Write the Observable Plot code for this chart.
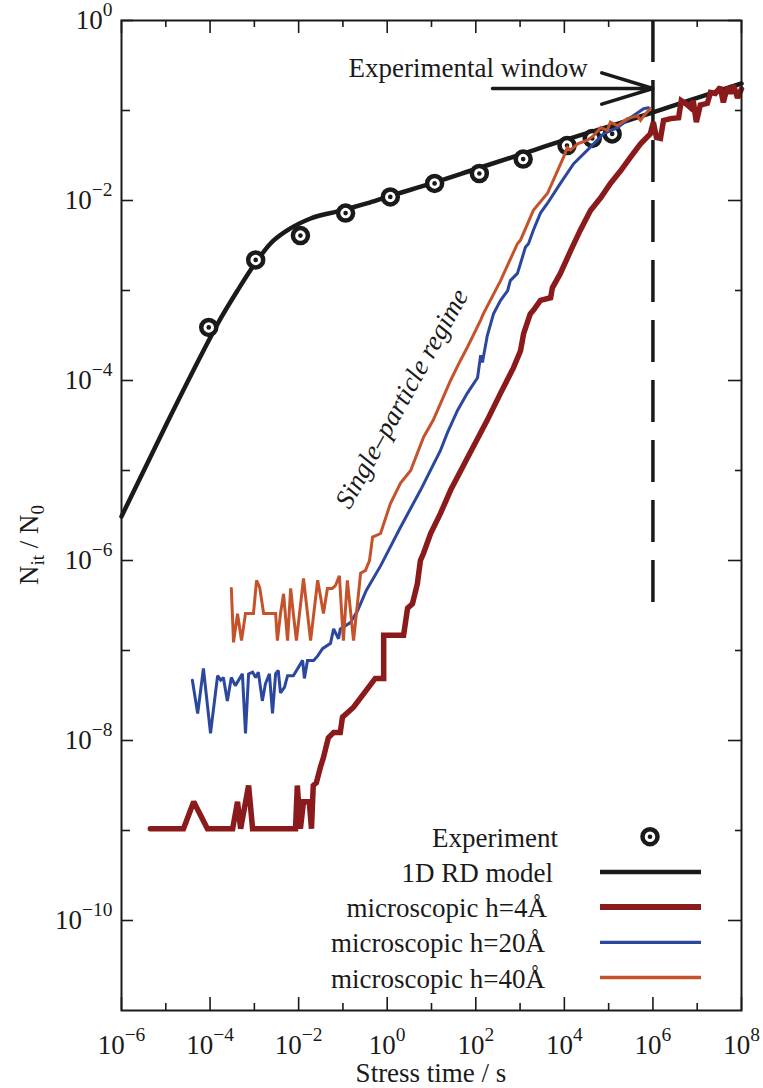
<!DOCTYPE html>
<html><head><meta charset="utf-8">
<script src="https://cdn.jsdelivr.net/npm/d3@7"></script>
<script src="https://cdn.jsdelivr.net/npm/@observablehq/plot@0.6"></script>
<style>
html,body{margin:0;padding:0;background:#fff;overflow:hidden}
#chart svg{display:block}
#chart svg text{font-family:"Liberation Serif","Times New Roman",serif !important}
</style></head><body><div id="chart"></div>
<script>
// ---------- data (log10 exponents) ----------
const modelLogT = [-6, -5, -4.15, -3.83, -3.38, -2.97, -2.64, -2.25, -1.73, -1.12, -0.38, 0, 1, 2, 3, 4, 5, 6, 7, 8];
const modelLogN = [-5.51, -4.50, -3.67, -3.37, -3.00, -2.69, -2.48, -2.33, -2.20, -2.12, -2.02, -1.96, -1.81, -1.65, -1.49, -1.33, -1.18, -1.02, -0.86, -0.70];

const expLogT = [-4.03, -2.97, -1.96, -0.94, 0.07, 1.07, 2.08, 3.07, 4.06, 4.63, 5.08];
const expLogN = [-3.41, -2.66, -2.39, -2.14, -1.96, -1.81, -1.70, -1.54, -1.39, -1.31, -1.26];

const h4LogT = [-5.35, -4.60, -4.37, -4.06, -3.49, -3.38, -3.31, -3.13, -3.04, -2.07, -2.03, -1.96, -1.89, -1.76, -1.71, -1.67, -1.60, -1.51, -1.44, -1.33, -1.21, -1.06, -1.01, -0.76, -0.27, -0.08, -0.08, 0.37, 0.46, 0.57, 0.68, 0.75, 0.82, 0.98, 1.20, 1.43, 1.81, 2.26, 2.56, 2.85, 3.01, 3.08, 3.23, 3.30, 3.46, 3.69, 3.73, 3.91, 4.14, 4.36, 4.59, 4.82, 5.04, 5.27, 5.49, 5.72, 5.94, 6.01, 6.08, 6.17, 6.24, 6.40, 6.58, 6.64, 6.76, 6.85, 6.91, 6.98, 7.07, 7.23, 7.30, 7.41, 7.52, 7.59, 7.68, 7.75, 7.82, 7.91, 8.0];
const h4LogN = [-8.98, -8.98, -8.68, -8.98, -8.98, -8.68, -8.98, -8.50, -8.98, -8.98, -8.50, -8.98, -8.68, -8.68, -8.98, -8.50, -8.47, -8.30, -8.19, -7.97, -7.91, -7.91, -7.74, -7.63, -7.31, -7.31, -6.83, -6.83, -6.53, -6.48, -6.26, -6.00, -5.92, -5.70, -5.48, -5.22, -4.86, -4.44, -4.14, -3.86, -3.67, -3.48, -3.26, -3.22, -3.11, -3.08, -2.97, -2.81, -2.56, -2.33, -2.11, -1.97, -1.81, -1.67, -1.52, -1.37, -1.26, -1.13, -1.30, -1.31, -1.11, -1.09, -1.08, -0.89, -0.93, -0.97, -0.89, -1.13, -0.94, -0.92, -0.80, -0.81, -0.74, -0.91, -0.74, -0.81, -0.72, -0.86, -0.76];

const h20LogT = [-4.40, -4.28, -4.15, -3.99, -3.83, -3.76, -3.70, -3.61, -3.52, -3.43, -3.27, -3.20, -3.13, -3.04, -2.97, -2.91, -2.82, -2.75, -2.66, -2.59, -2.52, -2.46, -2.41, -2.32, -2.25, -2.12, -1.91, -1.87, -1.80, -1.66, -1.57, -1.46, -1.28, -1.21, -1.10, -1.06, -0.83, -0.67, -0.47, -0.15, 0.30, 0.75, 1.20, 1.36, 1.59, 1.81, 2.04, 2.11, 2.15, 2.26, 2.40, 2.56, 2.72, 2.78, 2.94, 3.01, 3.12, 3.19, 3.30, 3.46, 3.62, 3.91, 4.21, 4.52, 4.88, 5.20, 5.49, 5.79, 5.90];
const h20LogN = [-7.33, -7.70, -7.20, -7.92, -7.28, -7.33, -7.30, -7.56, -7.30, -7.39, -7.26, -7.92, -7.26, -7.24, -7.30, -7.24, -7.56, -7.37, -7.26, -7.70, -7.26, -7.22, -7.47, -7.41, -7.28, -7.28, -7.11, -7.31, -7.11, -7.11, -7.06, -6.98, -6.92, -6.76, -6.87, -6.76, -6.69, -6.56, -6.33, -6.06, -5.63, -5.22, -4.78, -4.58, -4.33, -4.14, -3.97, -3.72, -3.80, -3.50, -3.26, -3.11, -3.00, -2.89, -2.81, -2.70, -2.52, -2.48, -2.33, -2.14, -2.03, -1.81, -1.59, -1.44, -1.26, -1.19, -1.08, -0.98, -0.97];

const h40LogT = [-3.52, -3.47, -3.38, -3.29, -3.20, -3.02, -2.95, -2.88, -2.79, -2.52, -2.48, -2.41, -2.34, -2.25, -2.18, -2.12, -2.05, -1.89, -1.73, -1.57, -1.44, -1.35, -1.24, -1.17, -1.08, -0.99, -0.90, -0.76, -0.60, -0.49, -0.40, -0.33, -0.15, 0.07, 0.30, 0.53, 0.82, 1.04, 1.20, 1.43, 1.65, 1.81, 2.11, 2.17, 2.56, 2.94, 3.01, 3.30, 3.62, 3.98, 4.07, 4.14, 4.30, 4.52, 4.66, 4.82, 4.97, 5.04, 5.20, 5.42, 5.65, 5.72, 5.79, 5.90, 5.94];
const h40LogN = [-6.31, -6.91, -6.59, -6.89, -6.59, -6.59, -6.22, -6.30, -6.59, -6.59, -6.89, -6.59, -6.37, -6.89, -6.31, -6.59, -6.89, -6.20, -6.89, -6.22, -6.59, -6.31, -6.31, -6.28, -6.17, -6.89, -6.22, -6.89, -6.14, -6.11, -6.00, -5.74, -5.70, -5.37, -5.14, -5.00, -4.63, -4.44, -4.26, -4.00, -3.78, -3.63, -3.33, -3.26, -2.89, -2.48, -2.44, -2.11, -1.92, -1.52, -1.41, -1.44, -1.37, -1.33, -1.28, -1.19, -1.22, -1.13, -1.17, -1.09, -1.06, -1.11, -1.06, -1.00, -0.98];

// annotations (log10 exponents)
const windowLogT = [6];
const windowBottomLogN = -6.58;
const arrowLogT = [2.377, 6];
const arrowLogN = -0.756;
const windowLabel = {lt: -0.875, ln: -0.533, text: "Experimental window"};
const regimeLabel = {lt: 0.33, ln: -4.20, text: "Single\u2013particle regime"};

// axis ticks (log10 exponents)
const xMajorExp = [-6, -4, -2, 0, 2, 4, 6, 8];
const xMinorExp = [-5, -3, -1, 1, 3, 5, 7];
const yMajorExp = [0, -2, -4, -6, -8, -10];
const yMinorExp = [-1, -3, -5, -7, -9];

const legendLabels = ["Experiment", "1D RD model", "microscopic h=4\u00c5", "microscopic h=20\u00c5", "microscopic h=40\u00c5"];
const xTitle = "Stress time / s";

// ---------- styling ----------
const BLACK = "#1a1a1a", RED = "#8b1a1c", BLUE = "#2c489e", ORANGE = "#c4532b";
const FONT = '"Liberation Serif","Times New Roman",serif';
const W = 763, H = 1088, mL = 121, mR = 22, mT = 20, mB = 78;
const plotW = W - mL - mR, plotH = H - mT - mB;

const pts = (lt, ln) => lt.map((t, i) => ({t: 10 ** t, n: 10 ** ln[i]}));
const model = pts(modelLogT, modelLogN);
const exper = pts(expLogT, expLogN);
const h4 = pts(h4LogT, h4LogN);
const h20 = pts(h20LogT, h20LogN);
const h40 = pts(h40LogT, h40LogN);
const pw = e => 10 ** e;
const fmt = d => "10^" + Math.round(Math.log10(d));

const tickOpts = {stroke: BLACK, strokeWidth: 1.6};
const chart = Plot.plot({
  width: W, height: H, marginLeft: mL, marginRight: mR, marginTop: mT, marginBottom: mB,
  style: {fontFamily: FONT, fontSize: "27px", color: BLACK, background: "#fff"},
  x: {type: "log", domain: [1e-6, 1e8]},
  y: {type: "log", domain: [1e-11, 1]},
  marks: [
    // inward ticks on all four sides
    Plot.ruleX(xMajorExp.map(pw), {x: d => d, insetTop: plotH - 13, ...tickOpts}),
    Plot.ruleX(xMinorExp.map(pw), {x: d => d, insetTop: plotH - 7, ...tickOpts}),
    Plot.ruleX(xMajorExp.map(pw), {x: d => d, insetBottom: plotH - 13, ...tickOpts}),
    Plot.ruleX(xMinorExp.map(pw), {x: d => d, insetBottom: plotH - 7, ...tickOpts}),
    Plot.ruleY(yMajorExp.map(pw), {y: d => d, insetRight: plotW - 12, ...tickOpts}),
    Plot.ruleY(yMinorExp.map(pw), {y: d => d, insetRight: plotW - 9, ...tickOpts}),
    Plot.ruleY(yMajorExp.map(pw), {y: d => d, insetLeft: plotW - 13, ...tickOpts}),
    Plot.ruleY(yMinorExp.map(pw), {y: d => d, insetLeft: plotW - 6, ...tickOpts}),
    Plot.axisX(xMajorExp.map(pw), {anchor: "bottom", tickSize: 0, tickPadding: 24, tickFormat: fmt, label: null, fontSize: 27}),
    Plot.axisY(yMajorExp.map(pw), {anchor: "left", tickSize: 0, tickPadding: 9, tickFormat: fmt, label: null, fontSize: 27}),
    // experimental window
    Plot.ruleX(windowLogT.map(pw), {x: d => d, y1: () => 1, y2: () => pw(windowBottomLogN), stroke: BLACK, strokeWidth: 3.5, strokeDasharray: "42,18"}),
    Plot.arrow([arrowLogT], {x1: d => pw(d[0]), x2: d => pw(d[1]), y1: () => pw(arrowLogN), y2: () => pw(arrowLogN), stroke: BLACK, strokeWidth: 3.5, headLength: 24, headAngle: 34}),
    Plot.text([windowLabel], {x: d => pw(d.lt), y: d => pw(d.ln), text: "text", textAnchor: "start", fontSize: 27, fill: BLACK}),
    Plot.text([regimeLabel], {x: d => pw(d.lt), y: d => pw(d.ln), text: "text", rotate: -61, fontStyle: "italic", fontSize: 27, fill: BLACK}),
    // data
    Plot.line(model, {x: "t", y: "n", stroke: BLACK, strokeWidth: 4.5, curve: "monotone-x"}),
    Plot.dot(exper, {x: "t", y: "n", r: 7.5, stroke: BLACK, strokeWidth: 4.5, fill: "#fff"}),
    Plot.dot(exper, {x: "t", y: "n", r: 2.3, fill: BLACK, stroke: "none"}),
    Plot.line(h4, {x: "t", y: "n", stroke: RED, strokeWidth: 5.5, strokeLinejoin: "miter", strokeMiterlimit: 2}),
    Plot.line(h20, {x: "t", y: "n", stroke: BLUE, strokeWidth: 3, strokeLinejoin: "miter", strokeMiterlimit: 2}),
    Plot.line(h40, {x: "t", y: "n", stroke: ORANGE, strokeWidth: 3, strokeLinejoin: "miter", strokeMiterlimit: 2}),
    Plot.frame({stroke: BLACK, strokeWidth: 2})
  ]
});

const svg = d3.select(chart);
// superscript exponents in tick labels
svg.selectAll("text").each(function () {
  const m = /^10\^(-?\d+)$/.exec(this.textContent);
  if (!m) return;
  const el = d3.select(this);
  el.text(null);
  el.append("tspan").text("10");
  el.append("tspan").attr("dy", -13).attr("font-size", 19.5).text(m[1].replace("-", "\u2212"));
});

// axis titles
const yt = svg.append("text").attr("transform", "translate(38,545) rotate(-90)")
  .attr("text-anchor", "middle").attr("font-size", 27).attr("fill", BLACK).attr("font-family", FONT);
yt.append("tspan").text("N");
yt.append("tspan").attr("dy", 6).attr("font-size", 19).text("it");
yt.append("tspan").attr("dy", -6).text(" / N");
yt.append("tspan").attr("dy", 6).attr("font-size", 19).text("0");
svg.append("text").attr("x", mL + plotW / 2).attr("y", 1082).attr("text-anchor", "middle")
  .attr("font-size", 27).attr("fill", BLACK).attr("font-family", FONT).text(xTitle);

// legend (pixel layout)
const legendStyle = [
  {kind: "dot"},
  {kind: "line", color: BLACK, width: 4.5},
  {kind: "line", color: RED, width: 6},
  {kind: "line", color: BLUE, width: 3.3},
  {kind: "line", color: ORANGE, width: 3.3}
];
const legRight = [558, 553, 547, 545, 545];
const lg = svg.append("g").attr("font-family", FONT).attr("font-size", 27).attr("fill", BLACK);
legendLabels.forEach((label, i) => {
  const cy = 836.7 + i * 35.2;
  lg.append("text").attr("x", legRight[i]).attr("y", cy + 10).attr("text-anchor", "end").text(label);
  const s = legendStyle[i];
  if (s.kind === "dot") {
    lg.append("circle").attr("cx", 650).attr("cy", cy).attr("r", 7.5).attr("fill", "#fff").attr("stroke", BLACK).attr("stroke-width", 4.5);
    lg.append("circle").attr("cx", 650).attr("cy", cy).attr("r", 2.3).attr("fill", BLACK);
  } else {
    lg.append("line").attr("x1", 600).attr("x2", 701).attr("y1", cy).attr("y2", cy)
      .attr("stroke", s.color).attr("stroke-width", s.width);
  }
});

document.getElementById("chart").appendChild(chart);
</script></body></html>
